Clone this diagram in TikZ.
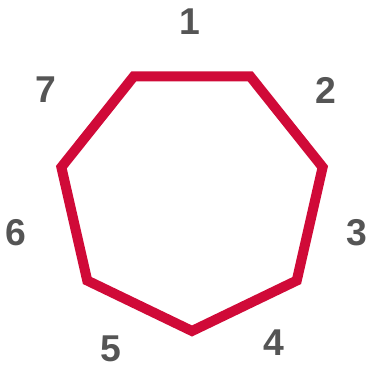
\documentclass[tikz,border=0pt]{standalone}
\usepackage{fontspec}
\setmainfont{Liberation Sans}
\usetikzlibrary{calc}
\definecolor{hepred}{HTML}{D00A38}
\definecolor{numgray}{HTML}{555555}

\begin{document}
\begin{tikzpicture}[x=0.75pt, y=0.75pt,
    side/.style={line width=7.5pt, hepred, line join=miter},
    num/.style={font=\bfseries\fontsize{28}{28}\selectfont, text=numgray, inner sep=0pt}]
    \useasboundingbox (0,0) rectangle (368,367);
    \coordinate (c) at (192,170);
    % corners, starting at the bottom one
    \foreach \i in {0,...,6}
        \coordinate (v\i) at ($(c)+({-90+51.4286*\i}:134)$);
    \draw[side] (v0) -- (v1) -- (v2) -- (v3) -- (v4) -- (v5) -- (v6) -- cycle;
    % numbers next to the sides
    \foreach \k/\x/\y in {1/190/345.5, 2/326/276.5, 3/357/134, 4/274/24.5,
                          5/111/18, 6/16/134, 7/46/277}
        \node[num] (n\k) at (\x,\y) {\k};
\end{tikzpicture}
\end{document}
